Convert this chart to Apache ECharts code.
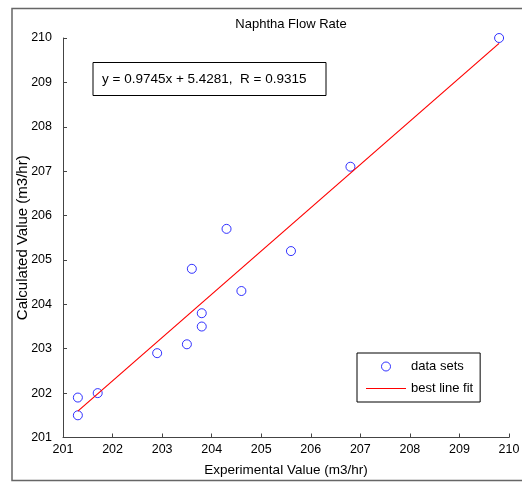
<!DOCTYPE html>
<html>
<head>
<meta charset="utf-8">
<script src="https://cdn.jsdelivr.net/npm/echarts@6/dist/echarts.min.js"></script>
<style>
  html, body { margin: 0; padding: 0; background: #ffffff; }
  #chart { width: 522px; height: 482px; }
</style>
</head>
<body>
<div id="chart"></div>
<script>
// Measured vs. model-calculated naphtha flow (m3/hr)
const experimental = [201.3, 201.3, 201.7, 202.9, 203.5, 203.8, 203.8, 203.6, 204.3, 204.6, 205.6, 206.8, 209.8];
const calculated   = [201.9, 201.5, 202.0, 202.9, 203.1, 203.5, 203.8, 204.8, 205.7, 204.3, 205.2, 207.1, 210.0];

// Least-squares fit reported in the annotation
const fitSlope = 0.9745;
const fitIntercept = 5.4281;
const fitR = 0.9315;

// Axis ticks (same range on both axes)
const axisTicks = [201, 202, 203, 204, 205, 206, 207, 208, 209, 210];

const FONT = "'Liberation Sans', Arial, Helvetica, sans-serif";

const points = experimental.map((x, i) => [x, calculated[i]]);
const xLo = Math.min(...experimental);
const xHi = Math.max(...experimental);
const fitLine = [xLo, xHi].map(x => [x, fitSlope * x + fitIntercept]);

const axisCommon = {
  type: 'value',
  min: axisTicks[0],
  max: axisTicks[axisTicks.length - 1],
  interval: axisTicks[1] - axisTicks[0],
  nameLocation: 'middle',
  nameMoveOverlap: false,
  nameTextStyle: { color: '#000', fontSize: 13.5, fontFamily: FONT },
  axisLine: { show: true, lineStyle: { color: '#444', width: 1 } },
  axisTick: { show: true, inside: true, length: 4, lineStyle: { color: '#444', width: 1 } },
  axisLabel: { color: '#000', fontSize: 12.5, fontFamily: FONT },
  splitLine: { show: false }
};

const chart = echarts.init(document.getElementById('chart'), null, { renderer: 'canvas' });

chart.setOption({
  animation: false,
  backgroundColor: '#ffffff',
  title: {
    text: 'Naphtha Flow Rate',
    left: 286,
    top: 13,
    textAlign: 'center',
    textStyle: { color: '#000', fontSize: 13, fontWeight: 'normal', fontFamily: FONT }
  },
  grid: {
    left: 63,
    top: 38,
    right: 13,
    bottom: 44.5,
    containLabel: false,
    outerBoundsMode: 'none'
  },
  xAxis: Object.assign({}, axisCommon, {
    name: 'Experimental Value (m3/hr)',
    nameGap: 26,
    axisLabel: Object.assign({}, axisCommon.axisLabel, { margin: 6 })
  }),
  yAxis: Object.assign({}, axisCommon, {
    name: 'Calculated Value (m3/hr)',
    nameGap: 33,
    nameRotate: 90,
    nameTextStyle: Object.assign({}, axisCommon.nameTextStyle, { fontSize: 15 }),
    axisLabel: Object.assign({}, axisCommon.axisLabel, { margin: 11 })
  }),
  legend: {
    data: [
      { name: 'data sets' },
      { name: 'best line fit', icon: 'path://M0,0 L40,0 L40,1.2 L0,1.2 Z' }
    ],
    orient: 'vertical',
    left: 357,
    top: 353,
    padding: [7, 7, 7, 9],
    backgroundColor: '#ffffff',
    borderColor: '#000',
    borderWidth: 1,
    itemWidth: 40,
    itemHeight: 9,
    itemGap: 9,
    itemStyle: { borderWidth: 1 },
    textStyle: { color: '#000', fontSize: 13, fontFamily: FONT },
    selectedMode: false
  },
  graphic: [
    {
      // figure frame (open on the right)
      type: 'polyline',
      silent: true,
      z: -10,
      shape: { points: [[560, 8.5], [12, 8.5], [12, 480.5], [560, 480.5]] },
      style: { fill: 'none', stroke: '#666', lineWidth: 1.5 }
    },
    {
      type: 'group',
      left: 92.5,
      top: 62,
      z: 100,
      children: [
        {
          type: 'rect',
          shape: { x: 0, y: 0, width: 233, height: 33 },
          style: { fill: '#ffffff', stroke: '#000', lineWidth: 1 }
        },
        {
          type: 'text',
          x: 9,
          y: 17,
          style: {
            text: 'y = ' + fitSlope + 'x + ' + fitIntercept + ',  R = ' + fitR,
            fill: '#000',
            fontSize: 13.5,
            fontFamily: FONT,
            verticalAlign: 'middle'
          }
        }
      ]
    }
  ],
  series: [
    {
      name: 'data sets',
      type: 'scatter',
      data: points,
      symbol: 'circle',
      symbolSize: 9,
      itemStyle: { color: 'rgba(0,0,0,0)', borderColor: '#0000ff', borderWidth: 1 },
      emphasis: { disabled: true },
      z: 2
    },
    {
      name: 'best line fit',
      type: 'line',
      data: fitLine,
      symbol: 'none',
      showSymbol: false,
      lineStyle: { color: '#ff0000', width: 1.2 },
      itemStyle: { color: '#ff0000' },
      emphasis: { disabled: true },
      z: 3
    }
  ]
});
</script>
</body>
</html>
